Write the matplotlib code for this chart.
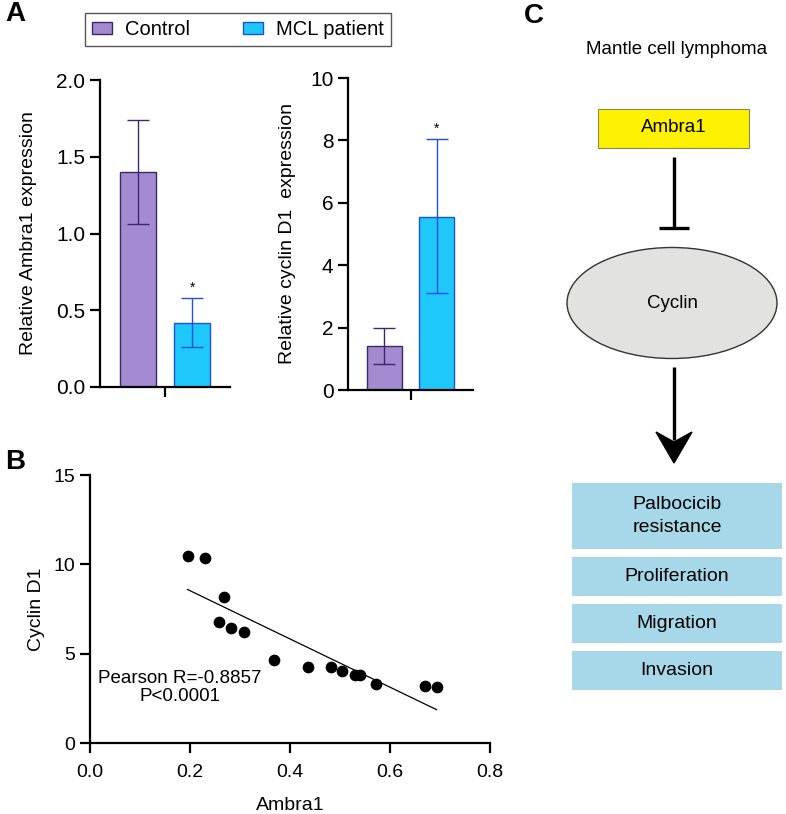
import numpy as np
import matplotlib.pyplot as plt
from matplotlib.patches import Rectangle, Ellipse, Polygon, Patch

plt.rcParams['font.family'] = ['Liberation Sans', 'DejaVu Sans']

# ---- data ----
groups = ['Control', 'MCL patient']
ambra1_mean = [1.40, 0.42]
ambra1_lo = [1.06, 0.26]
ambra1_hi = [1.74, 0.58]
cyclin_mean = [1.40, 5.55]
cyclin_lo = [0.82, 3.10]
cyclin_hi = [1.98, 8.05]

ambra1_x = [0.195, 0.229, 0.267, 0.258, 0.282, 0.307, 0.367, 0.436, 0.481,
            0.504, 0.530, 0.539, 0.571, 0.670, 0.693]
cyclin_y = [10.47, 10.35, 8.19, 6.75, 6.45, 6.19, 4.65, 4.27, 4.27,
            4.05, 3.81, 3.81, 3.32, 3.21, 3.13]

outcomes = ['Palbocicib\nresistance', 'Proliferation', 'Migration', 'Invasion']

fill_c = ['#a48ad0', '#1ec8fb']
edge_c = ['#3b2868', '#1f4fe0']

W, H = 786, 814
fig = plt.figure(figsize=(W / 100, H / 100), dpi=100)


def px_axes(x0, y0, x1, y1):
    # axes from pixel box (top-left origin)
    return fig.add_axes([x0 / W, 1 - y1 / H, (x1 - x0) / W, (y1 - y0) / H])


def style(ax, fs):
    for s in ['top', 'right']:
        ax.spines[s].set_visible(False)
    for s in ['left', 'bottom']:
        ax.spines[s].set_linewidth(1.6)
    ax.tick_params(width=1.6, length=7, labelsize=fs)


def bar_panel(ax, mean, lo, hi, ylim, yticks, ylabel, lpad):
    xs = np.arange(len(mean))
    for i in xs:
        ax.bar(i, mean[i], width=0.66, color=fill_c[i], edgecolor=edge_c[i], linewidth=1.0, zorder=2)
        ax.errorbar(i, mean[i], yerr=[[mean[i] - lo[i]], [hi[i] - mean[i]]], color=edge_c[i],
                    capsize=8, elinewidth=1.0, capthick=1.0, zorder=3)
        if i == 1:
            ax.text(i, hi[i] + ylim * 0.01, '*', ha='center', va='bottom', fontsize=10)
    ax.set_xlim(-0.69, 1.69)
    ax.set_ylim(0, ylim)
    ax.set_yticks(yticks)
    ax.set_xticks([0.5])
    ax.set_xticklabels([''])
    ax.set_ylabel(ylabel, fontsize=14, labelpad=lpad)
    style(ax, 15)


ax1 = px_axes(100, 80, 230, 387)
bar_panel(ax1, ambra1_mean, ambra1_lo, ambra1_hi, 2.0, [0.0, 0.5, 1.0, 1.5, 2.0],
          'Relative Ambra1 expression', 14)
ax1.set_yticklabels(['0.0', '0.5', '1.0', '1.5', '2.0'])

ax2 = px_axes(348, 78, 473, 390)
bar_panel(ax2, cyclin_mean, cyclin_lo, cyclin_hi, 10, [0, 2, 4, 6, 8, 10],
          'Relative cyclin D1  expression', 10)

handles = [Patch(facecolor=fill_c[i], edgecolor=edge_c[i], label=groups[i]) for i in range(2)]
fig.legend(handles=handles, loc='upper left', bbox_to_anchor=(85 / W, 1 - 13 / H), ncol=2,
           fontsize=14.5, frameon=True, fancybox=False, edgecolor='#555555', framealpha=1,
           handlelength=1.0, handleheight=0.6, handletextpad=0.65, columnspacing=2.6,
           borderpad=0.35, borderaxespad=0)

# ---- panel B ----
ax3 = px_axes(90, 475, 490, 743)
ax3.scatter(ambra1_x, cyclin_y, s=55, color='black', zorder=3)
k, b = np.polyfit(ambra1_x, cyclin_y, 1)
xl = np.array([min(ambra1_x), max(ambra1_x)])
ax3.plot(xl, k * xl + b, color='black', linewidth=0.9)
ax3.set_xlim(0, 0.8)
ax3.set_ylim(0, 15)
ax3.set_xticks([0.0, 0.2, 0.4, 0.6, 0.8])
ax3.set_xticklabels(['0.0', '0.2', '0.4', '0.6', '0.8'])
ax3.set_yticks([0, 5, 10, 15])
ax3.set_xlabel('Ambra1', fontsize=14, labelpad=12)
ax3.set_ylabel('Cyclin D1', fontsize=14, labelpad=6)
ax3.text(0.18, 3.1, 'Pearson R=-0.8857\nP<0.0001', ha='center', va='center',
         fontsize=13.5, linespacing=1.1)
style(ax3, 14)
ax3.tick_params(axis='x', pad=8)

# ---- panel C (diagram, drawn in pixel coords) ----
axc = fig.add_axes([0, 0, 1, 1])
axc.set_xlim(0, W)
axc.set_ylim(H, 0)
axc.axis('off')

axc.text(15, 14, 'A', fontsize=20, fontweight='bold', ha='center', va='center')
axc.text(15, 462, 'B', fontsize=20, fontweight='bold', ha='center', va='center')
axc.text(534, 16, 'C', fontsize=20, fontweight='bold', ha='center', va='center')

axc.text(677, 50, 'Mantle cell lymphoma', fontsize=13.5, ha='center', va='center')

axc.add_patch(Rectangle((598, 109), 151, 39, facecolor='#fff200', edgecolor='#8a8650', linewidth=0.8))
axc.text(674, 128, 'Ambra1', fontsize=13.5, ha='center', va='center')

axc.plot([674, 674], [157, 228], color='black', linewidth=2.4, solid_capstyle='butt')
axc.plot([659, 689], [228, 228], color='black', linewidth=2.4, solid_capstyle='butt')

axc.add_patch(Ellipse((672, 303), 210, 111, facecolor='#e2e2e0', edgecolor='#333333', linewidth=1.0))
axc.text(672, 303, 'Cyclin', fontsize=13.5, ha='center', va='center')

axc.plot([674, 674], [367, 440], color='black', linewidth=2.4, solid_capstyle='butt')
axc.add_patch(Polygon([(674, 463), (656, 432), (674, 442), (692, 432)], closed=True,
                      facecolor='black', edgecolor='black'))

box_tops = [483, 557, 604, 651]
box_bottoms = [549, 596, 643, 690]
for i, t in enumerate(outcomes):
    axc.add_patch(Rectangle((572, box_tops[i]), 210, box_bottoms[i] - box_tops[i],
                            facecolor='#a6d8ea', edgecolor='none'))
    axc.text(677, (box_tops[i] + box_bottoms[i]) / 2, t, fontsize=14, ha='center', va='center',
             linespacing=1.45)

fig.savefig('out.png', dpi=100)
